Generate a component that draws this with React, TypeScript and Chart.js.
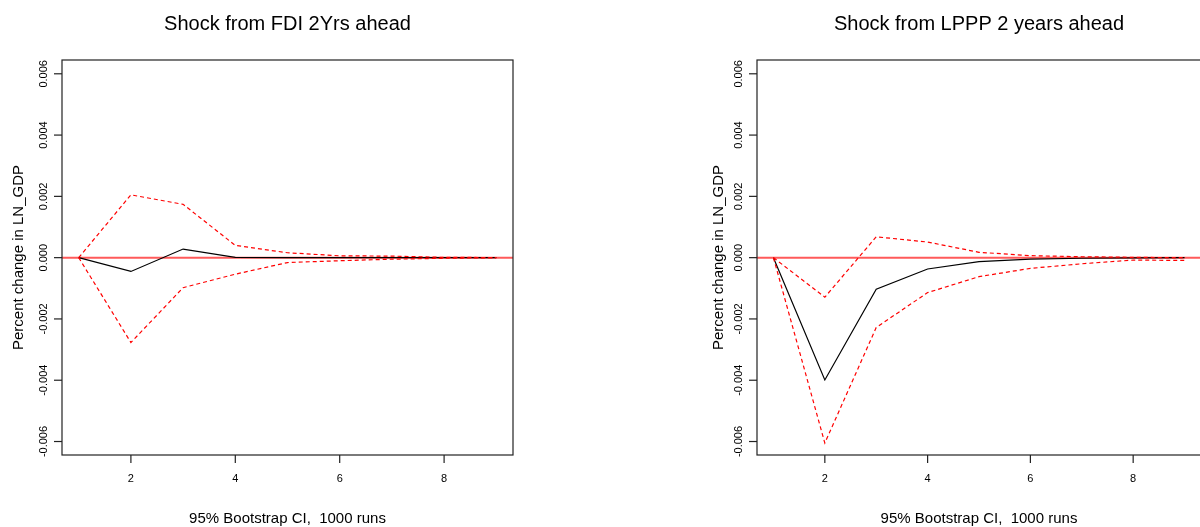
import React, { useEffect, useRef } from "react";
import { Chart, registerables } from "chart.js";

Chart.register(...registerables);

// ---- data ----
const horizons = [1, 2, 3, 4, 5, 6, 7, 8, 9];

const fdiResponse = [0, -0.00045, 0.00028, 0.00001, 0, 0, 0, 0, 0];
const fdiUpper = [0, 0.00205, 0.00174, 0.0004, 0.00016, 0.00006, 0.00005, 0.00001, 0.000003];
const fdiLower = [0, -0.00277, -0.00098, -0.00054, -0.00016, -0.0001, -0.00005, -0.00002, 0];

const lpppResponse = [0, -0.00399, -0.00103, -0.00037, -0.00013, -0.00005, -0.00002, -0.00001, 0];
const lpppUpper = [0, -0.00129, 0.00068, 0.00051, 0.000175, 0.000065, 0.00003, 0.00001, 0];
const lpppLower = [0, -0.00605, -0.00228, -0.00114, -0.00062, -0.00035, -0.0002, -0.00008, -0.00009];

const xTicks = [2, 4, 6, 8];
const yTicks = [-0.006, -0.004, -0.002, 0, 0.002, 0.004, 0.006];

const leftTitle = "Shock from FDI 2Yrs ahead";
const rightTitle = "Shock from LPPP 2 years ahead";
const yAxisTitle = "Percent change in LN_GDP";
const xAxisTitle = "95% Bootstrap CI,  1000 runs";

const FONT = '"Liberation Sans", Arial, Helvetica, sans-serif';

type PanelProps = {
  left: number;
  width: number;
  padding: { left: number; right: number; top: number; bottom: number };
  title: string;
  response: number[];
  upper: number[];
  lower: number[];
  yTitleGap: number;
};

function toPoints(ys: number[]) {
  return horizons.map((x, i) => ({ x, y: ys[i] }));
}

function Panel(props: PanelProps) {
  const ref = useRef<HTMLCanvasElement | null>(null);
  useEffect(() => {
    const canvas = ref.current;
    if (!canvas) return;
    const plugin = {
      id: "rStyleAxes",
      beforeDatasetsDraw(chart: any) {
        const { ctx, chartArea } = chart;
        const ys = chart.scales.y;
        const y0 = ys.getPixelForValue(0);
        ctx.save();
        ctx.strokeStyle = "#ff5a5a";
        ctx.lineWidth = 2;
        ctx.beginPath();
        ctx.moveTo(chartArea.left, y0);
        ctx.lineTo(chartArea.right, y0);
        ctx.stroke();
        ctx.restore();
      },
      afterDraw(chart: any) {
        const { ctx, chartArea } = chart;
        const xs = chart.scales.x;
        const ys = chart.scales.y;
        const L = chartArea.left;
        const R = chartArea.right;
        const T = chartArea.top;
        const B = chartArea.bottom;
        ctx.save();
        // box
        ctx.strokeStyle = "#222";
        ctx.lineWidth = 1.2;
        ctx.strokeRect(L, T, R - L, B - T);
        ctx.fillStyle = "#000";
        // x ticks
        ctx.font = `11px ${FONT}`;
        ctx.textAlign = "center";
        ctx.textBaseline = "alphabetic";
        for (const t of xTicks) {
          const px = xs.getPixelForValue(t);
          ctx.beginPath();
          ctx.moveTo(px, B);
          ctx.lineTo(px, B + 8);
          ctx.stroke();
          ctx.fillText(String(t), px, B + 26.5);
        }
        // y ticks
        for (const t of yTicks) {
          const py = ys.getPixelForValue(t);
          ctx.beginPath();
          ctx.moveTo(L, py);
          ctx.lineTo(L - 8, py);
          ctx.stroke();
          ctx.save();
          ctx.translate(L - 15, py);
          ctx.rotate(-Math.PI / 2);
          ctx.textAlign = "center";
          ctx.textBaseline = "alphabetic";
          ctx.fillText(t.toFixed(3), 0, 0);
          ctx.restore();
        }
        // title
        const cx = (L + R) / 2;
        ctx.font = `20px ${FONT}`;
        ctx.textAlign = "center";
        ctx.fillText(props.title, cx, 29.5);
        // x title
        ctx.font = `15px ${FONT}`;
        ctx.fillText(xAxisTitle, cx, B + 68);
        // y title
        ctx.save();
        ctx.translate(L - props.yTitleGap, (T + B) / 2);
        ctx.rotate(-Math.PI / 2);
        ctx.textAlign = "center";
        ctx.fillText(yAxisTitle, 0, 0);
        ctx.restore();
        ctx.restore();
      },
    };

    const chart = new Chart(canvas, {
      type: "line",
      data: {
        datasets: [
          {
            data: toPoints(props.upper),
            borderColor: "#ff0000",
            borderWidth: 1.2,
            borderDash: [4, 3],
            pointRadius: 0,
            fill: false,
            tension: 0,
          },
          {
            data: toPoints(props.lower),
            borderColor: "#ff0000",
            borderWidth: 1.2,
            borderDash: [4, 3],
            pointRadius: 0,
            fill: false,
            tension: 0,
          },
          {
            data: toPoints(props.response),
            borderColor: "#000000",
            borderWidth: 1.2,
            pointRadius: 0,
            fill: false,
            tension: 0,
          },
        ],
      },
      options: {
        animation: false,
        responsive: false,
        devicePixelRatio: 1,
        layout: { padding: props.padding },
        plugins: {
          legend: { display: false },
          tooltip: { enabled: false },
          title: { display: false },
        },
        scales: {
          x: { type: "linear", display: false, min: 0.68, max: 9.32 },
          y: { type: "linear", display: false, min: -0.00644, max: 0.00645 },
        },
      },
      plugins: [plugin],
    });
    return () => chart.destroy();
  }, []);
  return (
    <canvas
      ref={ref}
      width={props.width}
      height={527}
      style={{ position: "absolute", left: props.left, top: 0, width: props.width, height: 527 }}
    />
  );
}

export default function App() {
  return (
    <div
      style={{
        position: "fixed",
        left: 0,
        top: 0,
        width: 1200,
        height: 527,
        overflow: "hidden",
        background: "#fff",
      }}
    >
      <Panel
        left={0}
        width={600}
        padding={{ left: 62, right: 87, top: 60, bottom: 72 }}
        title={leftTitle}
        response={fdiResponse}
        upper={fdiUpper}
        lower={fdiLower}
        yTitleGap={39}
      />
      <Panel
        left={600}
        width={700}
        padding={{ left: 157, right: 99, top: 60, bottom: 72 }}
        title={rightTitle}
        response={lpppResponse}
        upper={lpppUpper}
        lower={lpppLower}
        yTitleGap={34}
      />
    </div>
  );
}
